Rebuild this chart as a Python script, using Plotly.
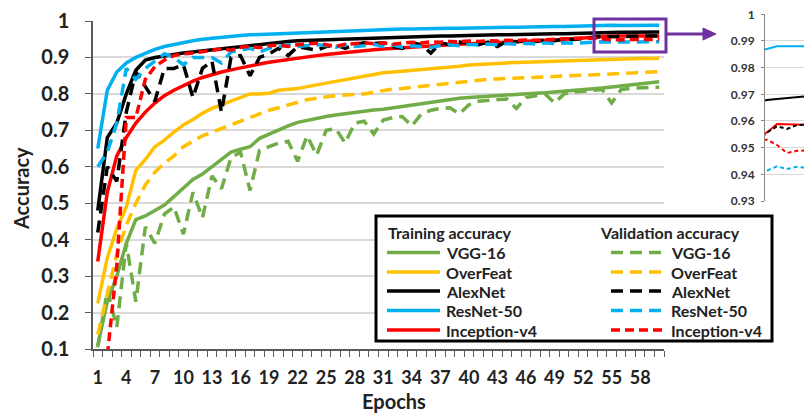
import plotly.graph_objects as go

W, H = 804, 415

epochs = list(range(1, 61))

vgg_train = [0.11, 0.23, 0.30, 0.39, 0.455, 0.465, 0.48, 0.495, 0.518, 0.54,
             0.565, 0.58, 0.60, 0.62, 0.64, 0.648, 0.655, 0.678, 0.69, 0.702,
             0.712, 0.722, 0.728, 0.733, 0.738, 0.742, 0.746, 0.75, 0.754, 0.756,
             0.758, 0.762, 0.766, 0.77, 0.774, 0.777, 0.78, 0.785, 0.788, 0.79,
             0.792, 0.794, 0.795, 0.796, 0.798, 0.80, 0.802, 0.803, 0.805, 0.806,
             0.808, 0.81, 0.813, 0.816, 0.819, 0.822, 0.825, 0.828, 0.83, 0.833]
vgg_val = [0.105, 0.26, 0.16, 0.39, 0.23, 0.435, 0.39, 0.47, 0.49, 0.415,
           0.53, 0.46, 0.575, 0.54, 0.625, 0.64, 0.535, 0.645, 0.655, 0.665,
           0.67, 0.615, 0.685, 0.632, 0.70, 0.705, 0.665, 0.72, 0.725, 0.69,
           0.728, 0.735, 0.738, 0.712, 0.745, 0.755, 0.76, 0.762, 0.745, 0.77,
           0.78, 0.782, 0.784, 0.786, 0.76, 0.79, 0.795, 0.80, 0.775, 0.80,
           0.805, 0.808, 0.81, 0.812, 0.775, 0.812, 0.815, 0.817, 0.818, 0.818]
overfeat_train = [0.225, 0.35, 0.43, 0.49, 0.59, 0.62, 0.655, 0.673, 0.695, 0.715,
                  0.73, 0.747, 0.76, 0.77, 0.78, 0.79, 0.80, 0.80, 0.802, 0.81,
                  0.812, 0.815, 0.82, 0.825, 0.83, 0.835, 0.84, 0.845, 0.85, 0.855,
                  0.858, 0.86, 0.862, 0.864, 0.866, 0.868, 0.87, 0.873, 0.876, 0.879,
                  0.881, 0.883, 0.884, 0.885, 0.886, 0.887, 0.888, 0.889, 0.889, 0.89,
                  0.89, 0.891, 0.892, 0.893, 0.894, 0.895, 0.896, 0.897, 0.897, 0.898]
overfeat_val = [0.14, 0.25, 0.36, 0.44, 0.50, 0.55, 0.585, 0.61, 0.63, 0.655,
                0.67, 0.685, 0.695, 0.705, 0.715, 0.725, 0.735, 0.745, 0.755, 0.762,
                0.77, 0.778, 0.784, 0.788, 0.792, 0.795, 0.797, 0.798, 0.80, 0.805,
                0.81, 0.813, 0.815, 0.818, 0.82, 0.822, 0.825, 0.828, 0.832, 0.835,
                0.838, 0.84, 0.841, 0.842, 0.843, 0.844, 0.845, 0.846, 0.847, 0.848,
                0.849, 0.85, 0.851, 0.852, 0.853, 0.855, 0.857, 0.859, 0.86, 0.861]
alexnet_train = [0.48, 0.68, 0.72, 0.80, 0.865, 0.893, 0.90, 0.905, 0.908, 0.912,
                 0.915, 0.918, 0.922, 0.925, 0.928, 0.931, 0.934, 0.937, 0.94, 0.942,
                 0.944, 0.946, 0.947, 0.948, 0.949, 0.95, 0.951, 0.952, 0.953, 0.954,
                 0.955, 0.956, 0.957, 0.957, 0.958, 0.958, 0.959, 0.959, 0.96, 0.96,
                 0.961, 0.961, 0.962, 0.962, 0.963, 0.963, 0.964, 0.964, 0.965, 0.965,
                 0.966, 0.967, 0.9679, 0.9682, 0.9686, 0.9691, 0.9693, 0.9695, 0.9697, 0.97]
alexnet_val = [0.42, 0.60, 0.56, 0.75, 0.86, 0.82, 0.78, 0.87, 0.87, 0.88,
               0.79, 0.87, 0.89, 0.75, 0.90, 0.905, 0.85, 0.90, 0.91, 0.925,
               0.905, 0.93, 0.925, 0.92, 0.93, 0.935, 0.925, 0.935, 0.94, 0.938,
               0.94, 0.93, 0.925, 0.94, 0.935, 0.912, 0.94, 0.935, 0.942, 0.94,
               0.935, 0.942, 0.93, 0.945, 0.943, 0.946, 0.944, 0.948, 0.946, 0.95,
               0.949, 0.952, 0.9557, 0.958, 0.957, 0.9585, 0.958, 0.9585, 0.958, 0.959]
resnet_train = [0.65, 0.81, 0.86, 0.885, 0.90, 0.912, 0.922, 0.93, 0.936, 0.941,
                0.946, 0.95, 0.953, 0.956, 0.958, 0.96, 0.962, 0.963, 0.964, 0.966,
                0.967, 0.968, 0.969, 0.970, 0.972, 0.973, 0.974, 0.975, 0.975, 0.976,
                0.977, 0.977, 0.978, 0.978, 0.979, 0.979, 0.98, 0.98, 0.98, 0.981,
                0.981, 0.982, 0.982, 0.983, 0.983, 0.984, 0.984, 0.985, 0.985, 0.985,
                0.986, 0.986, 0.9869, 0.988, 0.988, 0.9877, 0.9876, 0.9877, 0.9878, 0.988]
resnet_val = [0.60, 0.64, 0.72, 0.87, 0.84, 0.87, 0.89, 0.91, 0.90, 0.88,
              0.90, 0.90, 0.90, 0.885, 0.915, 0.92, 0.925, 0.915, 0.925, 0.93,
              0.935, 0.93, 0.932, 0.935, 0.933, 0.928, 0.935, 0.93, 0.932, 0.936,
              0.93, 0.934, 0.928, 0.932, 0.93, 0.927, 0.933, 0.935, 0.932, 0.936,
              0.934, 0.937, 0.935, 0.938, 0.936, 0.939, 0.937, 0.94, 0.938, 0.94,
              0.939, 0.941, 0.9414, 0.943, 0.942, 0.9428, 0.9425, 0.943, 0.9428, 0.943]
inception_train = [0.34, 0.53, 0.63, 0.68, 0.72, 0.75, 0.775, 0.795, 0.81, 0.823,
                   0.835, 0.845, 0.853, 0.86, 0.866, 0.872, 0.877, 0.882, 0.887, 0.891,
                   0.895, 0.899, 0.902, 0.905, 0.908, 0.911, 0.914, 0.917, 0.919, 0.921,
                   0.923, 0.925, 0.927, 0.929, 0.931, 0.932, 0.934, 0.935, 0.936, 0.937,
                   0.938, 0.939, 0.94, 0.941, 0.942, 0.943, 0.945, 0.946, 0.948, 0.95,
                   0.952, 0.954, 0.9557, 0.9589, 0.9588, 0.9585, 0.9586, 0.9588, 0.959, 0.959]
inception_val = [-0.3, 0.08, 0.33, 0.735, 0.735, 0.84, 0.875, 0.893, 0.905, 0.91,
                 0.912, 0.915, 0.92, 0.923, 0.92, 0.928, 0.93, 0.927, 0.932, 0.934,
                 0.93, 0.935, 0.937, 0.939, 0.935, 0.93, 0.936, 0.938, 0.94, 0.938,
                 0.94, 0.936, 0.94, 0.942, 0.94, 0.943, 0.942, 0.944, 0.943, 0.945,
                 0.944, 0.946, 0.945, 0.947, 0.946, 0.948, 0.947, 0.949, 0.95, 0.951,
                 0.952, 0.953, 0.953, 0.951, 0.948, 0.9488, 0.949, 0.949, 0.9492, 0.9495]

model_names = ["VGG-16", "OverFeat", "AlexNet", "ResNet-50", "Inception-v4"]
model_colors = ["#70AD47", "#FFC000", "#000000", "#00B0F0", "#FF0000"]
train_series = [vgg_train, overfeat_train, alexnet_train, resnet_train, inception_train]
val_series = [vgg_val, overfeat_val, alexnet_val, resnet_val, inception_val]
val_dashes = ["12px,7px", "12px,7px", "12px,7px", "12px,7px", "9px,5px"]

x_tickvals = list(range(1, 61, 3))
x_ticktext = [str(v) for v in x_tickvals]
y_tickvals = [0.1, 0.2, 0.3, 0.4, 0.5, 0.6, 0.7, 0.8, 0.9, 1.0]
y_ticktext = ["0.1", "0.2", "0.3", "0.4", "0.5", "0.6", "0.7", "0.8", "0.9", "1"]
inset_tickvals = [0.93, 0.94, 0.95, 0.96, 0.97, 0.98, 0.99, 1.0]
inset_ticktext = ["0.93", "0.94", "0.95", "0.96", "0.97", "0.98", "0.99", "1"]

FONT = "Lato"
TXT = "#222222"


def px(x):
    return x / W


def py(y):
    return 1 - y / H


fig = go.Figure()

for name, col, ys in zip(model_names, model_colors, train_series):
    fig.add_trace(go.Scatter(x=epochs, y=ys, mode="lines", name=name + " train",
                             line=dict(color=col, width=3.5), showlegend=False,
                             xaxis="x", yaxis="y"))
for name, col, ys, d in zip(model_names, model_colors, val_series, val_dashes):
    fig.add_trace(go.Scatter(x=epochs, y=ys, mode="lines", name=name + " val",
                             line=dict(color=col, width=3.5, dash=d), showlegend=False,
                             xaxis="x", yaxis="y"))
# inset
for name, col, ys in zip(model_names, model_colors, train_series):
    fig.add_trace(go.Scatter(x=epochs, y=ys, mode="lines", showlegend=False,
                             line=dict(color=col, width=2), xaxis="x2", yaxis="y2"))
for name, col, ys in zip(model_names, model_colors, val_series):
    fig.add_trace(go.Scatter(x=epochs, y=ys, mode="lines", showlegend=False,
                             line=dict(color=col, width=2, dash="4px,3px"),
                             xaxis="x2", yaxis="y2"))

axis_col = "#595959"
grid_col = "#D9D9D9"

fig.update_layout(
    width=W, height=H, template="none",
    margin=dict(l=0, r=0, t=0, b=0, pad=0),
    paper_bgcolor="white", plot_bgcolor="rgba(0,0,0,0)",
    font=dict(family=FONT, color=TXT),
    showlegend=False,
    xaxis=dict(domain=[px(93), px(664)], range=[0.5, 60.5], automargin=False,
               tickmode="array", tickvals=x_tickvals, ticktext=x_ticktext,
               ticks="", showgrid=False, zeroline=False,
               showline=True, linecolor=axis_col, linewidth=1.5,
               tickfont=dict(family=FONT, size=18, weight="bold", color=TXT),
               ticklabelstandoff=12,
               minor=dict(tickmode="linear", tick0=0.5, dtick=1, ticks="outside",
                          ticklen=6, tickwidth=1, tickcolor=axis_col, showgrid=False),
               anchor="y"),
    yaxis=dict(domain=[py(349), py(21)], range=[0.1, 1.0], automargin=False,
               tickmode="array", tickvals=y_tickvals, ticktext=y_ticktext,
               ticks="outside", ticklen=6, tickwidth=1, tickcolor=axis_col,
               showgrid=True, gridcolor=grid_col, gridwidth=1.5, zeroline=False,
               showline=True, linecolor=axis_col, linewidth=1.5,
               tickfont=dict(family=FONT, size=20, weight="bold", color=TXT),
               ticklabelstandoff=12, anchor="x"),
    xaxis2=dict(domain=[px(765), 1.0], range=[52.8, 56.7], automargin=False,
                showticklabels=False, ticks="", showgrid=False, zeroline=False,
                showline=False, anchor="y2"),
    yaxis2=dict(domain=[py(201), py(14.3)], range=[0.93, 1.0], automargin=False,
                tickmode="array", tickvals=inset_tickvals, ticktext=inset_ticktext,
                ticks="outside", ticklen=3, tickcolor="#888888",
                showgrid=True, gridcolor=grid_col, gridwidth=1, zeroline=False,
                showline=True, linecolor="#888888", linewidth=1,
                tickfont=dict(family=FONT, size=12, weight="bold", color="#333333"),
                ticklabelstandoff=4, anchor="x2"),
)

shapes = []
annotations = []

# axis titles
annotations.append(dict(text="Accuracy", x=px(21), y=py(189), xref="paper", yref="paper",
                        showarrow=False, textangle=-90, xanchor="center", yanchor="middle",
                        font=dict(family=FONT, size=20, weight="bold", color=TXT)))
annotations.append(dict(text="Epochs", x=px(394), y=py(401), xref="paper", yref="paper",
                        showarrow=False, xanchor="center", yanchor="middle",
                        font=dict(family=FONT, size=20, weight="bold", color=TXT)))

# zoom rectangle and arrow
purple = "#7030A0"
shapes.append(dict(type="rect", xref="paper", yref="paper",
                   x0=px(594), x1=px(666), y0=py(52), y1=py(19),
                   line=dict(color=purple, width=3), fillcolor="rgba(0,0,0,0)"))
shapes.append(dict(type="line", xref="paper", yref="paper",
                   x0=px(666), x1=px(704), y0=py(34), y1=py(34),
                   line=dict(color=purple, width=3)))
shapes.append(dict(type="path", xref="paper", yref="paper",
                   path="M {a},{b} L {c},{d} L {e},{f} Z".format(
                       a=px(703), b=py(28), c=px(716), d=py(34), e=px(703), f=py(40)),
                   fillcolor=purple, line=dict(color=purple, width=1)))

# legend box
shapes.append(dict(type="rect", xref="paper", yref="paper",
                   x0=px(376), x1=px(772), y0=py(341), y1=py(216),
                   line=dict(color="#000000", width=3), fillcolor="white", layer="above"))
lf = dict(family=FONT, size=16, weight="bold", color=TXT)
annotations.append(dict(text="Training accuracy", x=px(386), y=py(232), xref="paper",
                        yref="paper", showarrow=False, xanchor="left", yanchor="middle", font=lf))
annotations.append(dict(text="Validation accuracy", x=px(598), y=py(232), xref="paper",
                        yref="paper", showarrow=False, xanchor="left", yanchor="middle", font=lf))
row_y = [252.5, 272, 291, 310.5, 330]
for name, col, d, ry in zip(model_names, model_colors, val_dashes, row_y):
    shapes.append(dict(type="line", xref="paper", yref="paper", layer="above",
                       x0=px(387), x1=px(440), y0=py(ry), y1=py(ry),
                       line=dict(color=col, width=3.5)))
    shapes.append(dict(type="line", xref="paper", yref="paper", layer="above",
                       x0=px(611), x1=px(662), y0=py(ry), y1=py(ry),
                       line=dict(color=col, width=3.5, dash=d)))
    annotations.append(dict(text=name, x=px(444), y=py(ry), xref="paper", yref="paper",
                            showarrow=False, xanchor="left", yanchor="middle", font=lf))
    annotations.append(dict(text=name, x=px(669), y=py(ry), xref="paper", yref="paper",
                            showarrow=False, xanchor="left", yanchor="middle", font=lf))

fig.update_layout(shapes=shapes, annotations=annotations)
fig.write_html("out.html")
